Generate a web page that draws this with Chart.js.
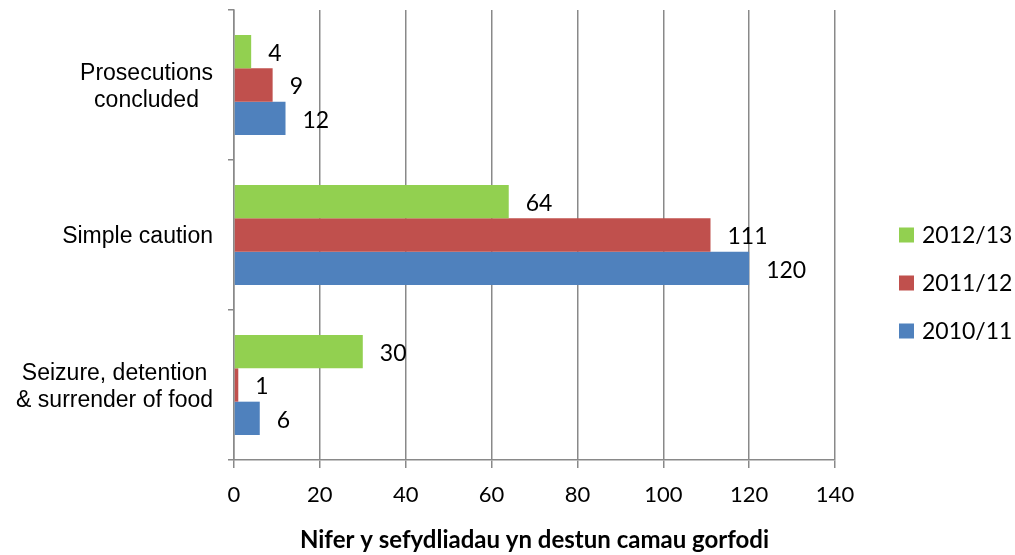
<!DOCTYPE html>
<html><head><meta charset="utf-8">
<script src="https://cdn.jsdelivr.net/npm/chart.js@4.4.0/dist/chart.umd.min.js"></script>
<style>html,body{margin:0;padding:0;background:#fff;}#wrap{width:1015px;height:555px;position:relative;}</style>
</head><body><div id="wrap"><canvas id="c" width="1015" height="555"></canvas></div>
<script>
const categories = [["Prosecutions", "concluded"], ["Simple caution"], ["Seizure, detention", "& surrender of food"]];
const seriesNames = ["2012/13", "2011/12", "2010/11"];
const values2012_13 = [4, 64, 30];
const values2011_12 = [9, 111, 1];
const values2010_11 = [12, 120, 6];
const xTicks = [0, 20, 40, 60, 80, 100, 120, 140];
const axisTitle = "Nifer y sefydliadau yn destun camau gorfodi";
const seriesColors = ["#92D050", "#C0504D", "#4F81BD"];

const GRID = "#898989";
const NUM_FONT = '23px Lato';

const labelsPlugin = {
  id: 'customLabels',
  afterDraw(chart) {
    const ctx = chart.ctx;
    const ca = chart.chartArea;
    const ys = chart.scales.y;
    // category labels
    ctx.save();
    ctx.fillStyle = '#000';
    ctx.font = '23px "Liberation Sans"';
    ctx.textAlign = 'center';
    ctx.textBaseline = 'alphabetic';
    categories.forEach((lines, i) => {
      const yc = ys.getPixelForValue(i);
      let w = 0;
      lines.forEach(l => { w = Math.max(w, ctx.measureText(l).width); });
      const cx = ca.left - 21 - w / 2;
      const n = lines.length;
      lines.forEach((l, k) => {
        ctx.fillText(l, cx, yc + 8 + (k - (n - 1) / 2) * 27);
      });
    });
    // data labels
    ctx.font = NUM_FONT;
    ctx.textAlign = 'left';
    ctx.textBaseline = 'middle';
    chart.data.datasets.forEach((ds, di) => {
      const meta = chart.getDatasetMeta(di);
      meta.data.forEach((bar, i) => {
        ctx.fillText(String(ds.data[i]), bar.x + 17, bar.y + 2);
      });
    });
    // legend
    const ly = [235, 283, 331];
    chart.data.datasets.forEach((ds, di) => {
      ctx.fillStyle = ds.backgroundColor;
      ctx.fillRect(899, ly[di] - 7.5, 15, 15);
      ctx.fillStyle = '#000';
      ctx.font = '23px Lato';
      ctx.fillText(ds.label, 922, ly[di] + 1);
    });
    ctx.restore();
  }
};

new Chart(document.getElementById('c'), {
  type: 'bar',
  data: {
    labels: categories,
    datasets: [
      { label: seriesNames[0], data: values2012_13, backgroundColor: seriesColors[0] },
      { label: seriesNames[1], data: values2011_12, backgroundColor: seriesColors[1] },
      { label: seriesNames[2], data: values2010_11, backgroundColor: seriesColors[2] }
    ]
  },
  options: {
    indexAxis: 'y',
    responsive: false,
    animation: false,
    devicePixelRatio: 1,
    categoryPercentage: 0.667,
    barPercentage: 1,
    layout: { padding: { left: 0, top: 10, right: 180, bottom: 0 } },
    plugins: { legend: { display: false }, tooltip: { enabled: false } },
    scales: {
      x: {
        type: 'linear',
        min: 0, max: 140,
        afterBuildTicks: s => { s.ticks = xTicks.map(v => ({ value: v })); },
        grid: { color: GRID, lineWidth: 1.5, drawTicks: true, tickLength: 8, tickColor: GRID },
        border: { display: true, color: GRID, width: 1.5 },
        ticks: { color: '#000', font: { family: 'Lato', size: 22 }, padding: 14 },
        title: { display: true, text: axisTitle, color: '#000', font: { family: 'Lato', size: 24, weight: 'bold' }, padding: { top: 0, bottom: 0 } },
        afterFit: s => { s.height = 95; }
      },
      y: {
        type: 'category',
        offset: true,
        grid: { offset: true, drawOnChartArea: false, drawTicks: true, tickLength: 6, color: GRID, lineWidth: 1.5 },
        border: { display: true, color: GRID, width: 1.5 },
        ticks: { display: false },
        afterFit: s => { s.width = 234; }
      }
    }
  },
  plugins: [labelsPlugin]
});
</script>
</body></html>
